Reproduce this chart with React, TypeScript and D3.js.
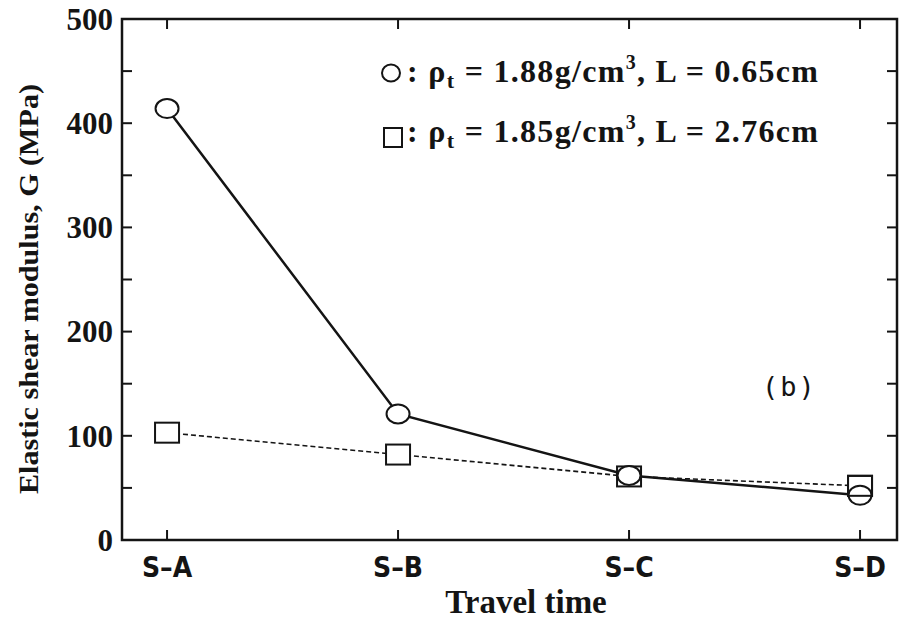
import React from "react";
import * as d3 from "d3";

// chart data
const categories = ["S\u2013A", "S\u2013B", "S\u2013C", "S\u2013D"];
const circleSeries = [414, 121, 62, 43];
const squareSeries = [103, 82, 61, 52];
const yTicks = [0, 100, 200, 300, 400, 500];
const yMinorTicks = [50, 150, 250, 350, 450];

const width = 901;
const height = 620;
const margin = { top: 19, right: 4, bottom: 80, left: 122 };

const serif = "'Liberation Serif', 'Times New Roman', serif";
const narrow = "'Liberation Sans Narrow', 'DejaVu Sans Condensed', sans-serif";
const ink = "#141414";

export default function App() {
  const innerW = width - margin.left - margin.right;
  const innerH = height - margin.top - margin.bottom;

  // categories sit at integer positions, axis padded on both sides
  const x = d3.scaleLinear().domain([-0.195, 3.16]).range([0, innerW]);
  const y = d3.scaleLinear().domain([0, 500]).range([innerH, 0]);

  const line = d3
    .line<number>()
    .x((_, i) => x(i))
    .y((d) => y(d));

  return (
    <svg
      width={width}
      height={height}
      style={{ position: "absolute", left: 0, top: 0, background: "#fff" }}
    >
      <g transform={`translate(${margin.left},${margin.top})`}>
        {/* frame */}
        <rect x={0} y={0} width={innerW} height={innerH} fill="none" stroke={ink} strokeWidth={2.5} />

        {/* y ticks, left and right, pointing inward */}
        {[...yTicks, ...yMinorTicks].map((t) => (
          <g key={"yt" + t}>
            <line x1={0} x2={10} y1={y(t)} y2={y(t)} stroke={ink} strokeWidth={2} />
            <line x1={innerW} x2={innerW - 10} y1={y(t)} y2={y(t)} stroke={ink} strokeWidth={2} />
          </g>
        ))}
        {yTicks.map((t) => (
          <text
            key={"yl" + t}
            x={-9}
            y={y(t)}
            dy="0.35em"
            textAnchor="end"
            fontFamily={serif}
            fontWeight="bold"
            fontSize={31}
            fill={ink}
          >
            {t}
          </text>
        ))}

        {/* x ticks, bottom and top */}
        {categories.map((c, i) => (
          <g key={c}>
            <line x1={x(i)} x2={x(i)} y1={innerH} y2={innerH - 10} stroke={ink} strokeWidth={2} />
            <line x1={x(i)} x2={x(i)} y1={0} y2={10} stroke={ink} strokeWidth={2} />
            <text
              x={x(i)}
              y={innerH + 37}
              textAnchor="middle"
              fontFamily={narrow}
              fontWeight="bold"
              fontSize={28}
              fill={ink}
            >
              {c}
            </text>
          </g>
        ))}

        {/* series lines */}
        <path d={line(circleSeries) ?? ""} fill="none" stroke={ink} strokeWidth={2.5} />
        <path
          d={line(squareSeries) ?? ""}
          fill="none"
          stroke={ink}
          strokeWidth={1.6}
          strokeDasharray="5,3"
        />

        {/* markers */}
        {squareSeries.map((v, i) => (
          <rect
            key={"s" + i}
            x={x(i) - 12}
            y={y(v) - 10}
            width={24}
            height={20}
            fill="#fff"
            stroke={ink}
            strokeWidth={2}
          />
        ))}
        {circleSeries.map((v, i) => (
          <ellipse key={"c" + i} cx={x(i)} cy={y(v)} rx={11.5} ry={9.5} fill="#fff" stroke={ink} strokeWidth={2} />
        ))}
        {/* last square drawn again over the circle, as in the figure */}
        <rect
          x={x(3) - 12}
          y={y(squareSeries[3]) - 10}
          width={24}
          height={20}
          fill="none"
          stroke={ink}
          strokeWidth={2}
        />

        {/* legend */}
        <g fontFamily={serif} fontWeight="bold" fontSize={32} letterSpacing={1.3} fill={ink}>
          <ellipse cx={269} cy={54} rx={9} ry={8.5} fill="#fff" stroke={ink} strokeWidth={2} />
          <text x={285} y={63}>
            {": \u03c1"}
            <tspan fontSize={22} dy={6}>t</tspan>
            <tspan dy={-6}>{" = 1.88g/cm"}</tspan>
            <tspan fontSize={20} dy={-13}>3</tspan>
            <tspan dy={13}>{", L = 0.65cm"}</tspan>
          </text>
          <rect x={262} y={109} width={18} height={19} fill="#fff" stroke={ink} strokeWidth={2} />
          <text x={285} y={123}>
            {": \u03c1"}
            <tspan fontSize={22} dy={6}>t</tspan>
            <tspan dy={-6}>{" = 1.85g/cm"}</tspan>
            <tspan fontSize={20} dy={-13}>3</tspan>
            <tspan dy={13}>{", L = 2.76cm"}</tspan>
          </text>
        </g>

        {/* panel label */}
        <text
          x={640}
          y={377}
          fontFamily="'DejaVu Sans Mono', monospace"
          fontSize={27}
          letterSpacing={2}
          fill={ink}
        >
          (b)
        </text>
      </g>

      {/* axis titles */}
      <text
        x={526}
        y={613}
        textAnchor="middle"
        fontFamily={serif}
        fontWeight="bold"
        fontSize={33}
        fill={ink}
      >
        Travel time
      </text>
      <text
        transform="translate(38,289) rotate(-90)"
        textAnchor="middle"
        fontFamily={serif}
        fontWeight="bold"
        fontSize={28}
        textLength={410}
        lengthAdjust="spacingAndGlyphs"
        fill={ink}
      >
        Elastic shear modulus, G (MPa)
      </text>
    </svg>
  );
}
